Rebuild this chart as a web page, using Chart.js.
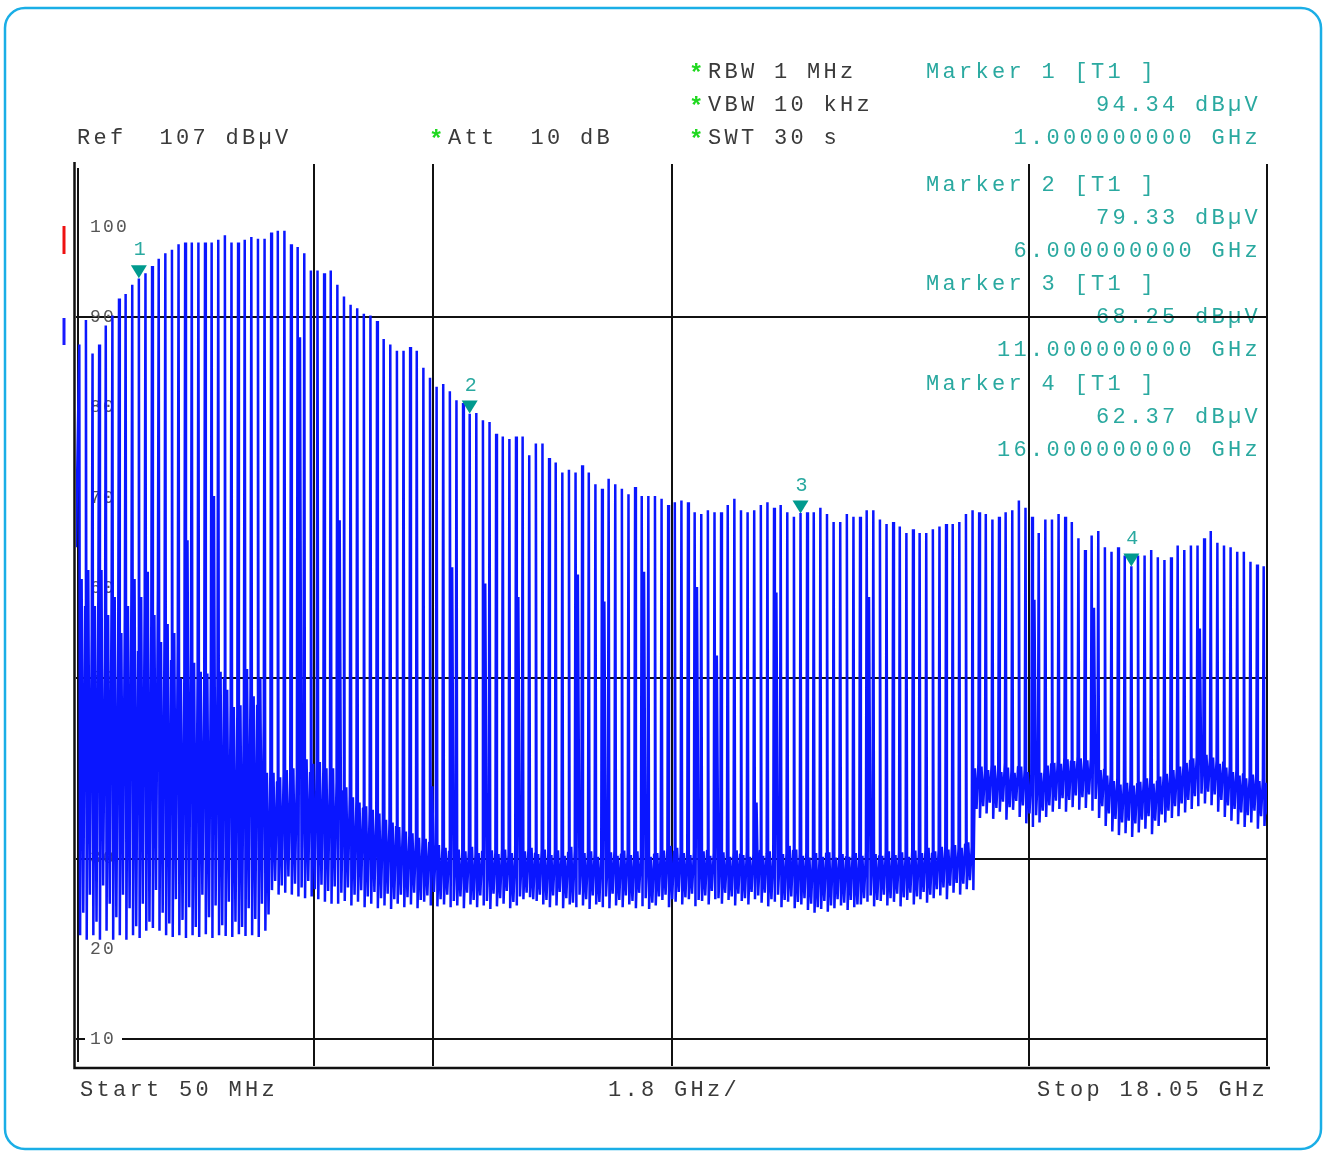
<!DOCTYPE html>
<html>
<head>
<meta charset="utf-8">
<script src="https://cdn.jsdelivr.net/npm/chart.js@4.4.1/dist/chart.umd.min.js"></script>
<style>
  html, body { margin: 0; padding: 0; background: #fff; }
  #wrap { position: relative; width: 1327px; height: 1152px; }
</style>
</head>
<body>
<div id="wrap"><canvas id="spec" width="1327" height="1152"></canvas></div>
<script>
// Spectrum trace: comb lines every 100 MHz (0.1 .. 18.0 GHz)
const COMB_STEP_GHZ = 0.1
const startLevel = 64.5

// peak level of each comb line, dBuV
const peakLevels = [
  87.0, 89.7, 86.0, 87.0, 89.1, 90.2, 92.1, 92.6, 93.6, 94.3,
  94.9, 95.7, 96.5, 97.1, 97.5, 98.1, 98.3, 98.3, 98.3, 98.3,
  98.3, 98.6, 99.1, 98.3, 98.3, 98.6, 98.9, 98.7, 98.7, 99.4,
  99.6, 99.6, 98.1, 97.8, 97.1, 95.2, 95.2, 94.9, 95.2, 93.6,
  92.3, 91.4, 91.0, 90.4, 90.2, 89.6, 87.6, 87.0, 86.3, 86.3,
  86.7, 86.3, 84.4, 83.3, 82.3, 82.6, 81.8, 80.8, 80.5, 79.3,
  79.4, 78.6, 78.4, 77.1, 76.8, 76.5, 76.8, 76.8, 74.7, 76.0,
  76.0, 74.4, 73.9, 72.8, 73.1, 72.8, 73.6, 72.8, 71.5, 71.0,
  72.1, 71.5, 71.0, 70.4, 71.2, 70.2, 70.2, 70.2, 69.9, 69.2,
  69.5, 69.7, 69.5, 68.4, 68.2, 68.6, 68.4, 68.4, 69.2, 69.9,
  68.6, 68.4, 68.6, 69.2, 69.5, 68.9, 69.2, 68.4, 67.9, 68.3,
  68.4, 68.4, 68.9, 68.2, 67.3, 67.3, 68.2, 67.9, 67.9, 68.6,
  68.6, 67.6, 67.1, 67.3, 66.8, 66.1, 66.5, 66.1, 66.1, 66.5,
  66.8, 67.1, 67.1, 67.3, 68.2, 68.6, 68.4, 68.2, 67.6, 67.9,
  68.4, 68.6, 69.7, 68.9, 67.9, 66.1, 67.6, 67.6, 68.2, 67.9,
  67.3, 65.5, 64.2, 65.8, 66.3, 64.5, 64.0, 64.5, 63.6, 62.4,
  63.6, 63.6, 64.2, 63.4, 63.1, 63.4, 64.7, 64.2, 64.7, 64.7,
  65.5, 66.3, 65.0, 64.7, 64.5, 64.0, 64.0, 62.9, 62.6, 62.4
]

// noise between comb lines, four samples after each line: low, high, low, high
const floorLow = [
  21.5, 21, 21.5, 21, 22, 21, 21.5, 21, 21.5, 21.2,
  22, 22.3, 22, 21.5, 21.3, 21.5, 21.2, 21.5, 21.3, 21.6,
  21.2, 21.5, 21.4, 21.3, 21.6, 21.4, 21.5, 21.3, 22, 26.5,
  26, 26.2, 26, 25.8, 25.6, 25.8, 25.5, 25.2, 25, 25,
  25.3, 24.8, 25.2, 24.6, 25, 24.5, 24.8, 24.4, 25, 24.6,
  24.9, 24.5, 25.2, 24.8, 24.7, 24.9, 24.6, 24.8, 24.5, 24.9,
  24.6, 24.8, 24.4, 24.7, 25, 24.5, 24.8, 25.5, 25.7, 25.3,
  24.9, 24.6, 24.8, 24.5, 24.9, 24.6, 24.8, 24.4, 24.9, 24.6,
  24.5, 24.8, 24.6, 24.9, 24.5, 24.7, 24.4, 24.8, 25.4, 24.6,
  25.2, 24.9, 25.5, 24.7, 25.3, 24.9, 25.5, 25, 25.4, 24.8,
  25.3, 24.9, 25.5, 25.1, 24.7, 25.2, 24.6, 25.2, 24.5, 24.9,
  24.3, 24, 24.4, 24.1, 24.5, 24.8, 24.3, 24.6, 24.9, 25.2,
  24.7, 25.3, 24.8, 25.2, 24.7, 25.4, 24.9, 25.5, 25.1, 25.6,
  25.9, 25.5, 26.2, 26, 26.6, 26.5, 34.5, 35, 34.4, 35.2,
  34.3, 35.4, 34.6, 33.9, 33.5, 34, 34.6, 35.2, 35.5, 35.2,
  35.7, 35.4, 35.6, 35.3, 34.5, 33.6, 33, 32.6, 32.8, 32.4,
  32.9, 33.3, 32.7, 33.6, 34, 34.5, 34.7, 35.1, 35.5, 35.8,
  36.1, 35.9, 35.2, 34.6, 34.2, 33.8, 33.5, 34, 33.3, 33.6
]
const floorHigh = [
  61, 62, 58, 62, 57, 59, 55, 58, 61, 59,
  61.8, 57, 54, 56, 55, 50, 65.3, 51.7, 50.7, 50.5,
  70.2, 50.7, 48.7, 46.8, 47, 51, 48, 50, 39.5, 39.5,
  39, 39.8, 40, 87.8, 41, 40.5, 40.7, 40, 40, 67.5,
  37.9, 36.8, 36.2, 35.8, 35.4, 35, 34.3, 34, 33.5, 33,
  32.8, 32.3, 32.2, 38, 31.5, 31.2, 62.3, 31, 30.8, 31.3,
  30.6, 60.5, 30.9, 30.5, 31, 30.6, 59, 30.8, 31.2, 30.5,
  31, 30.4, 30.9, 30.3, 31.3, 61.5, 30.6, 30.8, 30.2, 58.5,
  30.7, 30.3, 30.9, 30.4, 30.8, 61.8, 30.2, 30.6, 30.9, 31.4,
  31.2, 30.6, 30.4, 60.1, 30.8, 30.3, 52.5, 30.7, 30.2, 30.9,
  30.4, 30.2, 36.2, 30.3, 30.8, 59.5, 30.5, 31.4, 31, 30.3,
  30.1, 30.6, 30.2, 30.7, 30.1, 30.5, 30.2, 30.6, 30.3, 59,
  30.5, 30.3, 30.8, 30.4, 30.7, 30.2, 30.9, 30.6, 31.2, 30.8,
  31.3, 31, 31.5, 31.2, 31.8, 40, 40.2, 39.8, 40.3, 39.6,
  40.1, 39.5, 40.2, 39.6, 58.7, 39.5, 40.3, 40.6, 40.5, 41,
  40.8, 41.1, 40.9, 57.8, 39.8, 39.2, 38.6, 38.2, 38.4, 38.1,
  38.5, 38.9, 38.3, 39.1, 39.4, 39.8, 40.2, 40.6, 41.1, 55.5,
  41.5, 41.2, 40.5, 40.1, 39.6, 39.2, 38.9, 39.3, 38.6, 38.4
]
const floorLow2 = [
  24, 26, 23, 27, 25, 23.5, 26, 24.5, 22.5, 25,
  23, 26.5, 24, 22.8, 25.5, 23.2, 24.6, 22.4, 26, 23.5,
  24.8, 22.6, 25.2, 23, 22.4, 24.5, 23.3, 25, 23.8, 27.5,
  27, 28, 27.2, 26.8, 27.5, 26.6, 27.1, 26.4, 26.9, 26.2,
  26.8, 26, 26.5, 25.8, 26.3, 25.6, 26.1, 25.5, 26, 25.7,
  26.2, 25.4, 25.9, 26.3, 25.5, 26, 25.3, 25.8, 26.2, 25.4,
  25.9, 25.3, 26.1, 25.6, 26.4, 25.2, 25.8, 26.2, 25.5, 26,
  25.4, 25.9, 26.3, 25.6, 25.1, 26, 25.5, 25.9, 25.2, 25.8,
  26.1, 25.4, 25.9, 25.3, 26.2, 25.6, 25.1, 25.8, 26, 25.5,
  26.3, 25.7, 26.1, 25.4, 25.9, 26.4, 25.6, 26.2, 25.8, 26.1,
  25.6, 26.3, 25.9, 26.2, 25.5, 26, 25.4, 25.8, 25.2, 25.6,
  25, 24.6, 25.3, 24.8, 25.5, 25.1, 25.4, 24.9, 25.6, 25.9,
  25.4, 26, 25.6, 26.1, 25.7, 26.2, 25.8, 26.3, 26, 26.6,
  26.8, 27, 27.3, 27.2, 27.6, 35.5, 35.8, 36.2, 35.6, 36.3,
  35.7, 36.4, 35.9, 35, 34.8, 35.3, 35.9, 36.4, 36.7, 36.5,
  37, 36.8, 37.1, 36.6, 35.8, 35, 34.4, 34, 34.2, 33.9,
  34.3, 34.7, 34.2, 34.9, 35.3, 35.8, 36.1, 36.5, 36.9, 37.2,
  37.4, 37.1, 36.5, 35.9, 35.5, 35.1, 34.8, 35.3, 34.7, 34.9
]
const floorHigh2 = [
  58, 55, 60, 52, 59, 54, 57, 60, 53, 58,
  56, 60, 55, 52, 54, 51, 53, 50, 49, 51,
  49, 50, 47, 46, 48, 49, 47, 45, 40, 38.5,
  39.5, 38.8, 39.4, 40.2, 39.6, 40.8, 39.8, 39.4, 38.6, 37.5,
  37, 36.4, 35.6, 35.2, 34.8, 34.4, 34, 33.6, 33.2, 32.6,
  32.4, 32, 31.8, 31.6, 31.2, 30.8, 31, 30.6, 30.9, 30.5,
  30.8, 30.4, 30.7, 31, 30.4, 30.9, 30.5, 31.1, 30.6, 30.9,
  30.5, 30.8, 30.3, 30.7, 30.9, 30.4, 30.8, 30.5, 30.7, 30.3,
  30.9, 30.5, 30.6, 30.8, 30.4, 30.7, 30.5, 30.9, 31.1, 30.8,
  30.6, 30.9, 30.7, 30.5, 30.9, 30.6, 30.8, 30.4, 30.7, 30.5,
  30.8, 30.5, 30.9, 30.6, 30.4, 30.8, 30.6, 30.9, 30.5, 30.7,
  30.4, 30.2, 30.6, 30.3, 30.5, 30.2, 30.6, 30.4, 30.7, 30.5,
  30.3, 30.7, 30.4, 30.6, 30.3, 30.8, 30.5, 30.9, 30.6, 31,
  31.2, 31.4, 31.1, 31.6, 31.3, 40.5, 39.8, 40.4, 40, 40.6,
  39.7, 40.2, 39.9, 39.3, 39.8, 40, 40.5, 40.9, 41.2, 40.8,
  41.3, 40.9, 41.2, 40.6, 39.9, 39.4, 38.9, 38.5, 38.7, 38.3,
  38.8, 39, 38.6, 39.3, 39.7, 40, 40.4, 40.9, 41.3, 41.6,
  41.2, 40.9, 40.7, 40.3, 39.8, 39.4, 39.1, 39.5, 38.9, 38.7
]

// axes
const startGHz = 0.05
const stopGHz = 18.05
const spanPerDivGHz = 1.8
const refLevel = 107
const bottomLevel = 7
const yTickLabels = [100, 90, 80, 70, 60, 50, 40, 30, 20, 10]
const gridYValues = [90, 50, 30, 10]
const gridXDivisions = [2, 3, 5, 8, 10]

// markers
const markerFreqs = [1, 6, 11, 16]
const markerLevels = [94.34, 79.33, 68.25, 62.37]

const FONT = '"Liberation Mono", "Courier New", monospace'
const TEAL = '#2aa9a0'

// build the trace: comb line, then the noise samples up to the next line
const trace = [{ x: startGHz, y: startLevel }]
peakLevels.forEach((p, i) => {
  const f = (i + 1) * COMB_STEP_GHZ
  trace.push({ x: f, y: p })
  trace.push({ x: f + 0.012, y: floorLow[i] })
  trace.push({ x: f + 0.035, y: floorHigh[i] })
  trace.push({ x: f + 0.06, y: floorLow2[i] })
  trace.push({ x: f + 0.088, y: floorHigh2[i] })
})

function txt(ctx, s, x, y, color, align, size, spacing, weight) {
  ctx.font = `${weight || ''} ${size || 22}px ${FONT}`
  ctx.letterSpacing = (spacing === undefined ? 3.3 : spacing) + 'px'
  ctx.fillStyle = color
  ctx.textAlign = align || 'left'
  ctx.textBaseline = 'middle'
  ctx.fillText(s, x, y)
}

const analyzerPlugin = {
  id: 'analyzer',
  beforeDraw(chart) {
    const ctx = chart.ctx
    ctx.save()
    ctx.fillStyle = '#fff'
    ctx.fillRect(0, 0, chart.width, chart.height)

    // rounded frame
    ctx.strokeStyle = '#1aaee6'
    ctx.lineWidth = 2.5
    ctx.beginPath()
    ctx.roundRect(5, 8, 1316, 1141, 20)
    ctx.stroke()

    // header
    const dark = '#3a3a3a'
    const green = '#1fd81f'
    txt(ctx, 'Ref  107 dBµV', 77, 138, dark)
    txt(ctx, '*', 429, 141, green, 'left', 24, 0, 'bold')
    txt(ctx, 'Att  10 dB', 448, 138, dark)
    txt(ctx, '*', 689, 75, green, 'left', 24, 0, 'bold')
    txt(ctx, 'RBW 1 MHz', 708, 72, dark)
    txt(ctx, '*', 689, 108, green, 'left', 24, 0, 'bold')
    txt(ctx, 'VBW 10 kHz', 708, 105, dark)
    txt(ctx, '*', 689, 141, green, 'left', 24, 0, 'bold')
    txt(ctx, 'SWT 30 s', 708, 138, dark)

    const rows = [72, 185, 284, 384]
    markerFreqs.forEach((f, k) => {
      const y = rows[k]
      txt(ctx, `Marker ${k + 1} [T1 ]`, 926, y, TEAL)
      txt(ctx, `${markerLevels[k].toFixed(2)} dBµV`, 1261, y + 33, TEAL, 'right')
      txt(ctx, `${f.toFixed(9)} GHz`, 1261, y + 66, TEAL, 'right')
    })

    // footer
    txt(ctx, 'Start 50 MHz', 80, 1090, dark)
    txt(ctx, `${spanPerDivGHz} GHz/`, 674, 1090, dark, 'center')
    txt(ctx, 'Stop 18.05 GHz', 1268, 1090, dark, 'right')

    // small level marks left of the grid
    ctx.lineWidth = 3
    ctx.strokeStyle = '#ee1111'
    ctx.beginPath(); ctx.moveTo(64, 226); ctx.lineTo(64, 254); ctx.stroke()
    ctx.strokeStyle = '#1a1aff'
    ctx.beginPath(); ctx.moveTo(64, 318); ctx.lineTo(64, 345); ctx.stroke()
    ctx.restore()
  },
  beforeDatasetsDraw(chart) {
    const ctx = chart.ctx
    const y = chart.scales.y
    const a = chart.chartArea
    ctx.save()
    // inner left line
    ctx.strokeStyle = '#111'
    ctx.lineWidth = 2
    ctx.beginPath(); ctx.moveTo(78, a.top + 4); ctx.lineTo(78, a.bottom - 4); ctx.stroke()
    yTickLabels.forEach(v => {
      const py = y.getPixelForValue(v)
      if (v === 10) {
        ctx.fillStyle = '#fff'
        ctx.fillRect(85, py - 9, 37, 18)
      }
      txt(ctx, String(v), 90, py, '#555', 'left', 18, 2.2)
    })
    ctx.restore()
  },
  afterDatasetsDraw(chart) {
    const ctx = chart.ctx
    const { x, y } = chart.scales
    const a = chart.chartArea
    ctx.save()
    // markers
    markerFreqs.forEach((f, k) => {
      const px = x.getPixelForValue(f)
      const py = y.getPixelForValue(markerLevels[k])
      ctx.fillStyle = '#009a8e'
      ctx.beginPath()
      ctx.moveTo(px, py)
      ctx.lineTo(px - 8, py - 13)
      ctx.lineTo(px + 8, py - 13)
      ctx.closePath()
      ctx.fill()
      txt(ctx, String(k + 1), px + 1, py - 28, TEAL, 'center', 20, 0)
    })
    // outer frame: left and bottom
    ctx.strokeStyle = '#111'
    ctx.lineWidth = 2.5
    ctx.beginPath()
    ctx.moveTo(74.5, a.top - 2)
    ctx.lineTo(74.5, 1068)
    ctx.lineTo(1270, 1068)
    ctx.stroke()
    ctx.restore()
  }
}

new Chart(document.getElementById('spec'), {
  type: 'line',
  data: {
    datasets: [{
      data: trace,
      borderColor: '#0a16ff',
      borderWidth: 2.5,
      pointRadius: 0,
      tension: 0,
      fill: false,
      borderJoinStyle: 'bevel'
    }]
  },
  options: {
    responsive: false,
    animation: false,
    devicePixelRatio: 1,
    parsing: false,
    normalized: true,
    layout: { padding: { left: 76, right: 60, top: 164, bottom: 86 } },
    plugins: { legend: { display: false }, tooltip: { enabled: false } },
    scales: {
      x: {
        type: 'linear',
        min: startGHz,
        max: stopGHz,
        afterBuildTicks: s => {
          s.ticks = Array.from({ length: 11 }, (_, i) => ({ value: startGHz + spanPerDivGHz * i }))
        },
        ticks: { display: false },
        border: { display: false },
        grid: {
          drawTicks: false,
          lineWidth: 2,
          color: c => {
            const div = Math.round((c.tick.value - startGHz) / spanPerDivGHz)
            return gridXDivisions.includes(div) ? '#111' : 'rgba(0,0,0,0)'
          }
        }
      },
      y: {
        min: bottomLevel,
        max: refLevel,
        afterBuildTicks: s => {
          s.ticks = yTickLabels.map(v => ({ value: v }))
        },
        ticks: { display: false },
        border: { display: false },
        grid: {
          drawTicks: false,
          lineWidth: 2,
          color: c => gridYValues.includes(c.tick.value) ? '#111' : 'rgba(0,0,0,0)'
        }
      }
    }
  },
  plugins: [analyzerPlugin]
})
</script>
</body>
</html>
